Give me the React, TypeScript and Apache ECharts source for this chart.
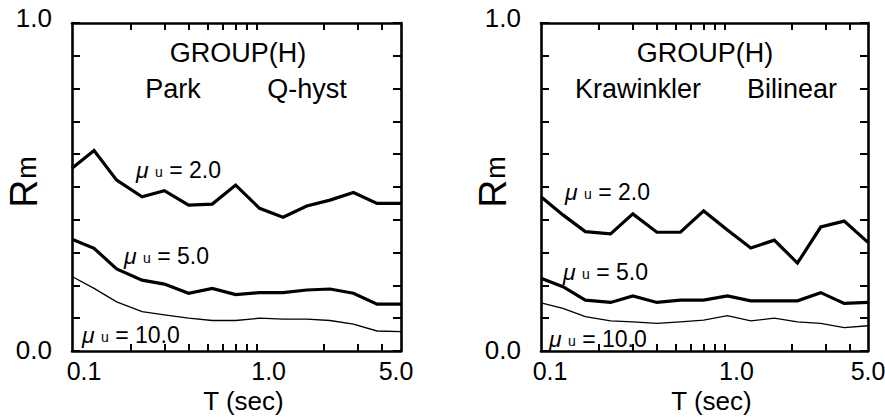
import React, { useEffect, useRef } from "react";
import * as echarts from "echarts";

// Periods T (sec) at which the curves are sampled
const periods = [0.1, 0.13, 0.17, 0.23, 0.3, 0.4, 0.53, 0.7, 0.93, 1.23, 1.63, 2.15, 2.84, 3.76, 5.0];

// Left panel: Park / Q-hyst
const parkMu2 = [0.557, 0.611, 0.521, 0.47, 0.489, 0.445, 0.448, 0.506, 0.435, 0.408, 0.442, 0.46, 0.483, 0.45, 0.45];
const parkMu5 = [0.341, 0.313, 0.25, 0.216, 0.204, 0.176, 0.191, 0.172, 0.178, 0.178, 0.186, 0.189, 0.176, 0.143, 0.143];
const parkMu10 = [0.227, 0.191, 0.15, 0.12, 0.11, 0.1, 0.093, 0.093, 0.1, 0.097, 0.097, 0.093, 0.082, 0.061, 0.059];

// Right panel: Krawinkler / Bilinear
const krawMu2 = [0.47, 0.415, 0.364, 0.357, 0.418, 0.362, 0.362, 0.427, 0.369, 0.314, 0.338, 0.268, 0.378, 0.396, 0.331];
const krawMu5 = [0.222, 0.196, 0.155, 0.148, 0.168, 0.148, 0.155, 0.155, 0.168, 0.153, 0.153, 0.153, 0.178, 0.145, 0.148];
const krawMu10 = [0.147, 0.13, 0.105, 0.092, 0.089, 0.084, 0.089, 0.094, 0.108, 0.092, 0.1, 0.089, 0.084, 0.071, 0.077];

// Axis ticks / labels
const xMinT = 0.1;
const xMaxT = 5.0;
const xTickValues = [0.2, 0.3, 0.4, 0.5, 0.6, 0.7, 0.8, 0.9, 2, 3, 4];
const xLabelValues = [0.1, 1.0, 5.0];
const yLabelValues = [0, 1];
const yMin = 0;
const yMax = 1;
const yStep = 0.1;

const FONT = "'Liberation Sans', Arial, Helvetica, sans-serif";
const BLACK = "#000";

const lg = (v: number) => Math.log10(v);

const panels = [
  {
    grid: { left: 72, top: 23, width: 329, height: 328 },
    title: "GROUP(H)",
    left: "Park",
    right: "Q-hyst",
    series: [parkMu2, parkMu5, parkMu10],
    muLabels: ["2.0", "5.0", "10.0"],
    firstPad: 24,
    lastPad: 10,
  },
  {
    grid: { left: 541, top: 23, width: 327, height: 328 },
    title: "GROUP(H)",
    left: "Krawinkler",
    right: "Bilinear",
    series: [krawMu2, krawMu5, krawMu10],
    muLabels: ["2.0", "5.0", "10.0"],
    firstPad: 18,
    lastPad: 0,
  },
];

// label anchor positions (left x, middle y)
const muPos = [
  [[136, 169], [124, 255], [82, 334]],
  [[565, 191], [563, 271], [549, 338]],
];
const titlePos = [
  { title: [238, 53], left: [173, 89], right: [307, 89] },
  { title: [705, 53], left: [638, 89], right: [792, 89] },
];

function buildOption() {
  const grids: any[] = [];
  const xAxes: any[] = [];
  const yAxes: any[] = [];
  const series: any[] = [];
  const graphics: any[] = [];

  panels.forEach((p, gi) => {
    grids.push({ ...p.grid, containLabel: false, outerBoundsMode: "none" });
    const axisLine = { show: true, onZero: false, lineStyle: { color: BLACK, width: 2.6 } };
    const tickStyle = { color: BLACK, width: 2 };
    const xCommon = {
      type: "value",
      gridIndex: gi,
      min: lg(xMinT),
      max: lg(xMaxT),
      splitLine: { show: false },
      axisLine,
    };
    const labelTok = { fontSize: 25, fontFamily: FONT, color: BLACK, lineHeight: 20 };
    // bottom x axis
    xAxes.push({
      ...xCommon,
      position: "bottom",
      axisTick: { show: true, inside: true, length: 7, lineStyle: tickStyle, customValues: xTickValues.map(lg) },
      axisLabel: {
        show: true,
        customValues: xLabelValues.map(lg),
        margin: 10,
        color: BLACK,
        fontSize: 25,
        lineHeight: 20,
        fontFamily: FONT,
        formatter: (v: number) => {
          const s = Math.pow(10, v).toFixed(1);
          if (Math.abs(v - lg(xMinT)) < 1e-9) return `{first|${s}}`;
          if (Math.abs(v - lg(xMaxT)) < 1e-9) return `{last|${s}}`;
          return `{mid|${s}}`;
        },
        rich: {
          first: { ...labelTok, padding: [0, 0, 0, p.firstPad] },
          last: { ...labelTok, padding: [0, p.lastPad, 0, 0] },
          mid: { ...labelTok, padding: [0, 0, 0, 6] },
        },
      },
      name: "T (sec)",
      nameLocation: "middle",
      nameGap: 40,
      nameMoveOverlap: false,
      nameTextStyle: { fontSize: 26, lineHeight: 20, fontFamily: FONT, color: BLACK, padding: [0, 0, 0, 14] },
    });
    // top x axis (frame)
    xAxes.push({
      ...xCommon,
      position: "top",
      axisTick: { show: true, inside: true, length: 7, lineStyle: tickStyle, customValues: xTickValues.map(lg) },
      axisLabel: { show: false },
    });
    const yCommon = {
      type: "value",
      gridIndex: gi,
      min: yMin,
      max: yMax,
      interval: yStep,
      splitLine: { show: false },
      axisLine,
      axisTick: { show: true, inside: true, length: 8, lineStyle: tickStyle },
    };
    yAxes.push({
      ...yCommon,
      position: "left",
      axisLabel: {
        show: true,
        customValues: yLabelValues,
        margin: 20,
        color: BLACK,
        fontSize: 26,
        fontFamily: FONT,
        formatter: (v: number) => (v >= yMax - 1e-9 ? `{top|${v.toFixed(1)}}` : `{bot|${v.toFixed(1)}}`),
        rich: {
          top: { fontSize: 26, fontFamily: FONT, color: BLACK, padding: [0, 0, 10, 0] },
          bot: { fontSize: 26, fontFamily: FONT, color: BLACK, padding: [0, 0, 3, 0] },
        },
      },
      name: "{R|R}{m|m}",
      nameLocation: "middle",
      nameRotate: 90,
      nameGap: 29,
      nameMoveOverlap: false,
      nameTextStyle: {
        color: BLACK,
        fontFamily: FONT,
        padding: [0, 0, 0, 10],
        rich: {
          R: { fontSize: 39, fontFamily: FONT, color: BLACK, verticalAlign: "bottom", lineHeight: 40 },
          m: { fontSize: 27, fontFamily: FONT, color: BLACK, verticalAlign: "bottom", lineHeight: 40, padding: [0, 0, 3, 1] },
        },
      },
    });
    yAxes.push({
      ...yCommon,
      position: "right",
      axisLabel: { show: false },
    });

    p.series.forEach((vals, si) => {
      series.push({
        type: "line",
        name: `${p.left}-${si}`,
        xAxisIndex: gi * 2,
        yAxisIndex: gi * 2,
        data: periods.map((t, i) => [lg(t), vals[i]]),
        symbol: "none",
        silent: true,
        lineStyle: { color: BLACK, width: si < 2 ? 3.2 : 1.3, join: "miter" },
      });
    });

    const tp = titlePos[gi];
    const txt = (text: string, x: number, y: number, size: number) => ({
      type: "text",
      x,
      y,
      silent: true,
      style: {
        text,
        fill: BLACK,
        fontSize: size,
        fontFamily: FONT,
        align: "center",
        verticalAlign: "middle",
        textAlign: "center",
        textVerticalAlign: "middle",
      },
    });
    graphics.push(txt(p.title, tp.title[0], tp.title[1], 27));
    graphics.push(txt(p.left, tp.left[0], tp.left[1], 27));
    graphics.push(txt(p.right, tp.right[0], tp.right[1], 27));

    p.muLabels.forEach((lab, li) => {
      const [x, y] = muPos[gi][li];
      graphics.push({
        type: "text",
        x,
        y,
        silent: true,
        style: {
          text: `{mu|μ} {u|u} {r|= ${lab}}`,
          fill: BLACK,
          fontSize: 23,
          fontFamily: FONT,
          align: "left",
          verticalAlign: "middle",
          textAlign: "left",
          textVerticalAlign: "middle",
          rich: {
            mu: { fontSize: 23, fontStyle: "italic", fontFamily: FONT, fill: BLACK, color: BLACK, verticalAlign: "bottom", lineHeight: 24 },
            u: { fontSize: 14, fontFamily: FONT, fill: BLACK, color: BLACK, verticalAlign: "bottom", lineHeight: 24, padding: [0, 0, 2, 0] },
            r: { fontSize: 23, fontFamily: FONT, fill: BLACK, color: BLACK, verticalAlign: "bottom", lineHeight: 24 },
          },
        },
      });
    });
  });

  return {
    animation: false,
    backgroundColor: "#fff",
    grid: grids,
    xAxis: xAxes,
    yAxis: yAxes,
    series,
    graphic: graphics,
  };
}

export default function App() {
  const ref = useRef<HTMLDivElement>(null);
  useEffect(() => {
    if (!ref.current) return;
    const chart = echarts.init(ref.current, undefined, { renderer: "svg" });
    chart.setOption(buildOption() as any);
    return () => chart.dispose();
  }, []);
  return (
    <div
      ref={ref}
      style={{ position: "absolute", left: 0, top: 0, width: 885, height: 417, background: "#fff" }}
    />
  );
}
